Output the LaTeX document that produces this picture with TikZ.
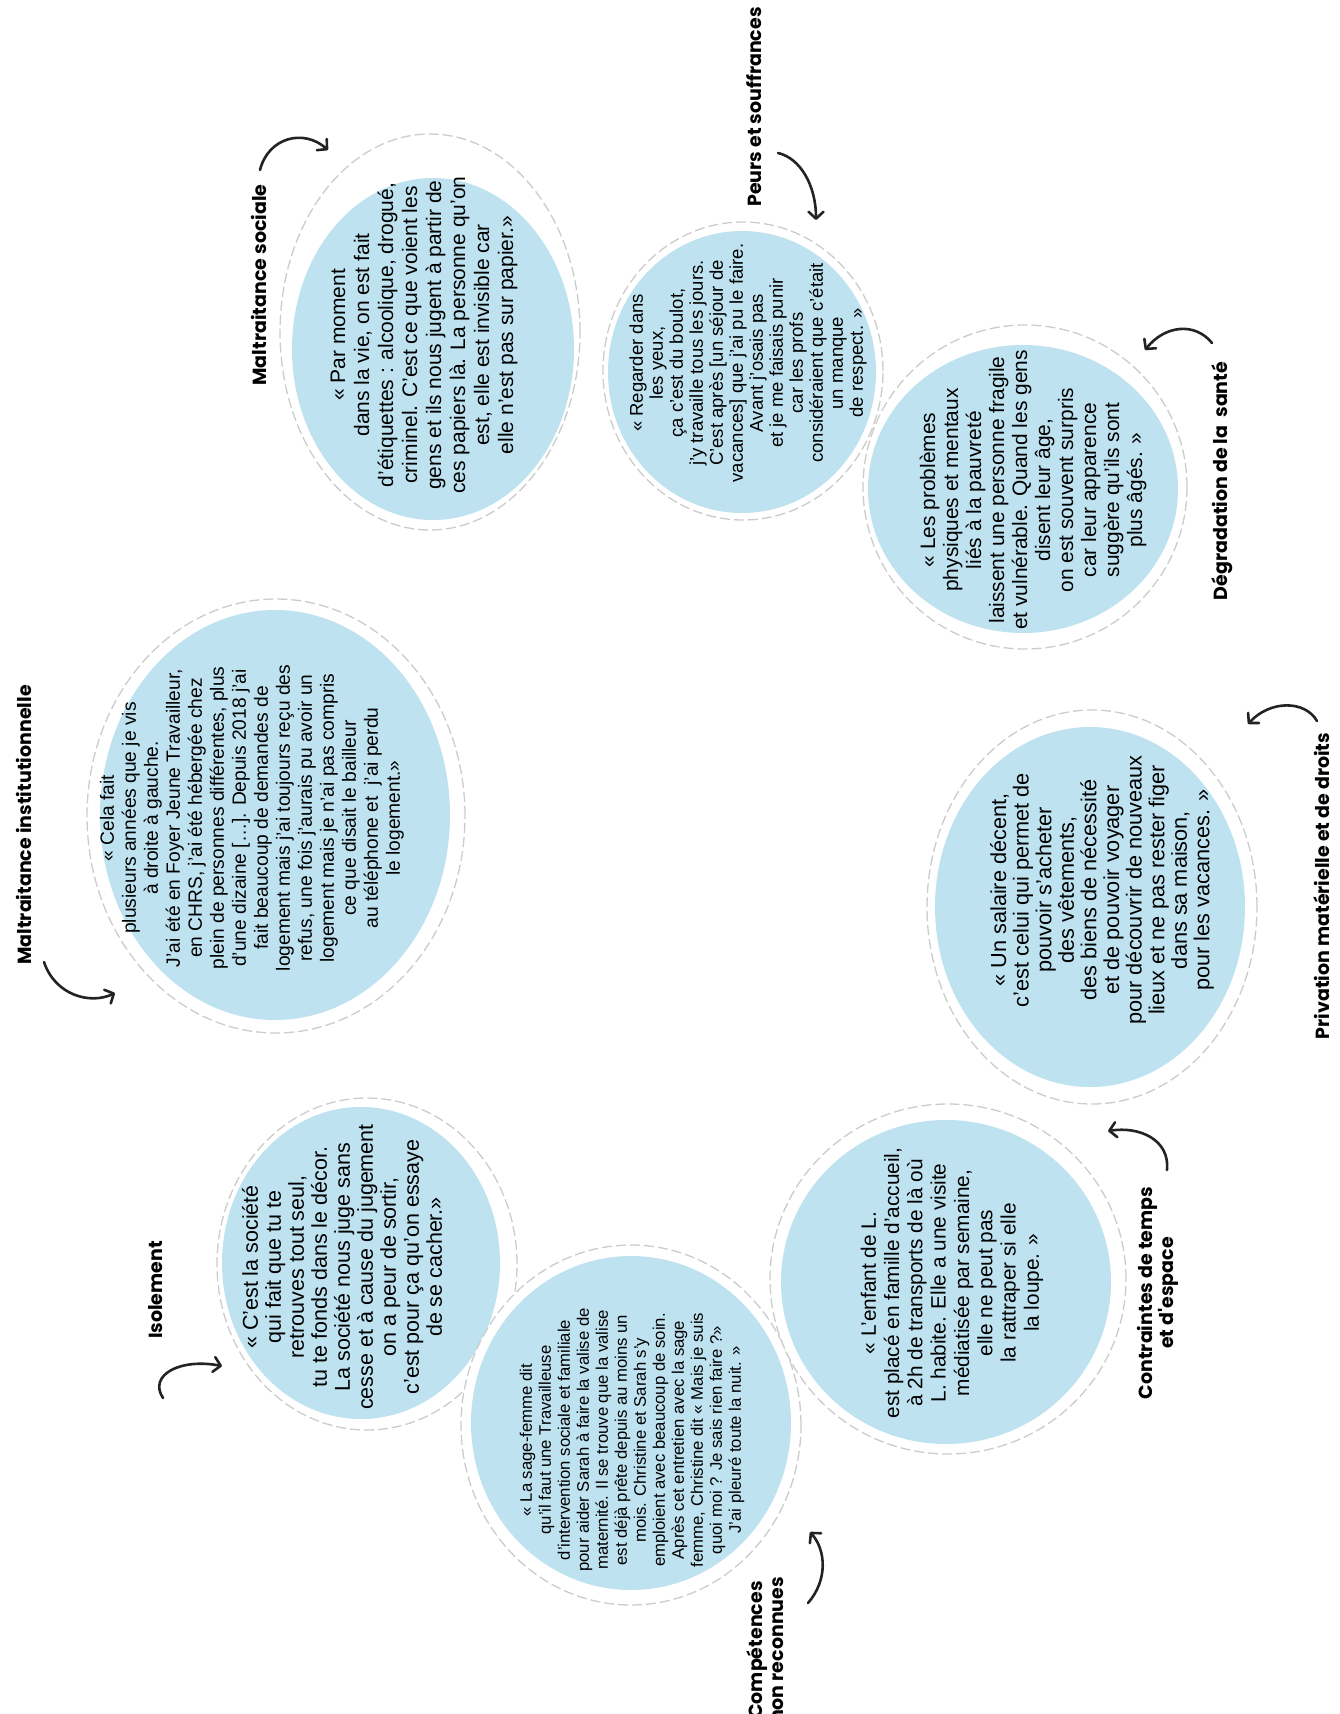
\documentclass[tikz,border=0pt]{standalone}
\usepackage{fontspec}
\setmainfont{Liberation Sans}
\newfontfamily\themefont{Poppins}
\usetikzlibrary{arrows.meta,shapes.geometric}
\definecolor{blobblue}{RGB}{190,226,240}
\definecolor{ringgray}{RGB}{204,204,204}
\definecolor{inkgray}{RGB}{35,35,35}
\tikzset{
    ring/.style={ellipse,draw=ringgray,fill=white,line width=1.3pt,dash pattern=on 10pt off 4pt,inner sep=0pt},
    blob/.style={ellipse,fill=blobblue,inner sep=0pt},
    dims/.style 2 args={minimum width=#1,minimum height=#2},
    quote/.style={rotate=90,align=center,inner sep=0pt},
    theme/.style={rotate=90,align=center,inner sep=0pt,font=\themefont\bfseries\fontsize{19}{21}\selectfont},
    pointer/.style={-{Straight Barb[length=7pt,width=15pt,round]},line width=2.6pt,line cap=round,draw=inkgray}
}
\newcommand\qfont[2]{\fontsize{#1}{#2}\selectfont}

\begin{document}
\begin{tikzpicture}[x=1pt,y=-1pt]
\useasboundingbox (0,0) rectangle (1340,1714);

\node[ring] (ring soc)   at (430,332)  [dims={300pt}{396pt}] {};
\node[blob] (blob soc)   at (433,349)  [dims={282pt}{342pt}] {};
\node[ring] (ring peur)  at (743,371)  [dims={280pt}{298pt}] {};
\node[blob] (blob peur)  at (742,372)  [dims={268pt}{282pt}] {};
\node[ring] (ring sante) at (1025,487) [dims={324pt}{324pt}] {};
\node[blob] (blob sante) at (1023,489) [dims={310pt}{288pt}] {};
\node[ring] (ring inst)  at (276,816)  [dims={378pt}{434pt}] {};
\node[blob] (blob inst)  at (275,815)  [dims={350pt}{410pt}] {};
\node[ring] (ring priv)  at (1092,907) [dims={330pt}{394pt}] {};
\node[blob] (blob priv)  at (1090,907) [dims={310pt}{360pt}] {};
\node[ring] (ring iso)   at (367,1264) [dims={300pt}{332pt}] {};
\node[blob] (blob iso)   at (361,1263) [dims={278pt}{312pt}] {};
\node[ring] (ring comp)  at (631,1425) [dims={340pt}{360pt}] {};
\node[blob] (blob comp)  at (631,1423) [dims={320pt}{334pt}] {};
\node[ring] (ring temps) at (948,1279) [dims={356pt}{350pt}] {};
\node[blob] (blob temps) at (946,1282) [dims={330pt}{324pt}] {};

\node[quote] (quote soc) at (424,335) [font=\qfont{21}{24}]
    {« Par moment\\dans la vie, on est fait\\d'étiquettes : alcoolique, drogué,\\criminel. C'est ce que voient les\\gens et ils nous jugent à partir de\\ces papiers là. La personne qu'on\\est, elle est invisible car\\elle n'est pas sur papier.»};
\node[quote] (quote peur) at (748,363) [font=\qfont{18.5}{20}]
    {« Regarder dans\\les yeux,\\ça c'est du boulot,\\j'y travaille tous les jours.\\C'est après [un séjour de\\vacances] que j'ai pu le faire.\\Avant j'osais pas\\et je me faisais punir\\car les profs\\considéraient que c'était\\un manque\\de respect. »};
\node[quote] (quote sante) at (1033,490) [font=\qfont{20.9}{23}]
    {« Les problèmes\\physiques et mentaux\\liés à la pauvreté\\laissent une personne fragile\\et vulnérable. Quand les gens\\disent leur âge,\\on est souvent surpris\\car leur apparence\\suggère qu'ils sont\\plus âgés. »};
\node[quote] (quote inst) at (252,818) [font=\qfont{19.2}{22}]
    {« Cela fait\\plusieurs années que je vis\\à droite à gauche.\\J'ai été en Foyer Jeune Travailleur,\\en CHRS, j'ai été hébergée chez\\plein de personnes différentes, plus\\d'une dizaine […]. Depuis 2018 j'ai\\fait beaucoup de demandes de\\logement mais j'ai toujours reçu des\\refus, une fois j'aurais pu avoir un\\logement mais je n'ai pas compris\\ce que disait le bailleur\\au téléphone et~ j'ai perdu\\le logement.»};
\node[quote] (quote priv) at (1102,890) [font=\qfont{21.7}{22.6}]
    {« Un salaire décent,\\c'est celui qui permet de\\pouvoir s'acheter\\des vêtements,\\des biens de nécessité\\et de pouvoir voyager\\pour découvrir de nouveaux\\lieux et ne pas rester figer\\dans sa maison,\\pour les vacances. »};
\node[quote] (quote iso) at (342,1267) [font=\qfont{21.5}{23}]
    {« C'est la société\\qui fait que tu te\\retrouves tout seul,\\tu te fonds dans le décor.\\La société nous juge sans\\cesse et à cause du jugement\\on a peur de sortir,\\c'est pour ça qu'on essaye\\de se cacher.»};
\node[quote] (quote comp) at (632,1440) [font=\qfont{16.7}{19}]
    {« La sage-femme dit\\qu'il faut une Travailleuse\\d'intervention sociale et familiale\\pour aider Sarah à faire la valise de\\maternité. Il se trouve que la valise\\est déjà prête depuis au moins un\\mois. Christine et Sarah s'y\\emploient avec beaucoup de soin.\\Après cet entretien avec la sage\\femme, Christine dit « Mais je suis\\quoi moi ? Je sais rien faire ?»\\J'ai pleuré toute la nuit. »};
\node[quote] (quote temps) at (952,1283) [font=\qfont{20.8}{23.3}]
    {« L'enfant de L.\\est placé en famille d'accueil,\\à 2h de transports de là où\\L. habite. Elle a une visite\\médiatisée par semaine,\\elle ne peut pas\\la rattraper si elle\\la loupe. »};

\node[theme] (lab soc)   at (259,285)   {Maltraitance sociale};
\node[theme] (lab peur)  at (754,107)   {Peurs et souffrances};
\node[theme] (lab sante) at (1222,481)  {Dégradation de la~ santé};
\node[theme] (lab inst)  at (24,825)    {Maltraitance institutionnelle};
\node[theme] (lab priv)  at (1322,886)  {Privation matérielle et de droits};
\node[theme] (lab iso)   at (156,1290)  {Isolement};
\node[theme] (lab comp)  at (765,1650)  {Compétences\\non reconnues};
\node[theme] (lab temps) at (1158,1293) {Contraintes de temps\\et d'espace};

\coordinate (soc tail)   at (260,170);   \coordinate (soc tip)   at (328,150);
\coordinate (peur tail)  at (778,153);   \coordinate (peur tip)  at (816,220);
\coordinate (sante tail) at (1212,343);  \coordinate (sante tip) at (1145,350);
\coordinate (inst tail)  at (44,962);    \coordinate (inst tip)  at (115,993);
\coordinate (priv tail)  at (1317,721);  \coordinate (priv tip)  at (1248,724);
\coordinate (iso tail)   at (163,1398);  \coordinate (iso tip)   at (222,1366);
\coordinate (comp tail)  at (808,1603);  \coordinate (comp tip)  at (810,1532);
\coordinate (temps tail) at (1167,1170); \coordinate (temps tip) at (1108,1131);

\draw[pointer] (soc tail)   .. controls (268,138) and (303,128) .. (soc tip);
\draw[pointer] (peur tail)  .. controls (800,158) and (816,185) .. (peur tip);
\draw[pointer] (sante tail) .. controls (1195,322) and (1165,325) .. (sante tip);
\draw[pointer] (inst tail)  .. controls (55,995) and (90,1005) .. (inst tip);
\draw[pointer] (priv tail)  .. controls (1305,700) and (1270,700) .. (priv tip);
\draw[pointer] (iso tail)   .. controls (148,1375) and (180,1358) .. (iso tip);
\draw[pointer] (comp tail)  .. controls (828,1580) and (826,1550) .. (comp tip);
\draw[pointer] (temps tail) .. controls (1170,1140) and (1140,1126) .. (temps tip);

\end{tikzpicture}
\end{document}
